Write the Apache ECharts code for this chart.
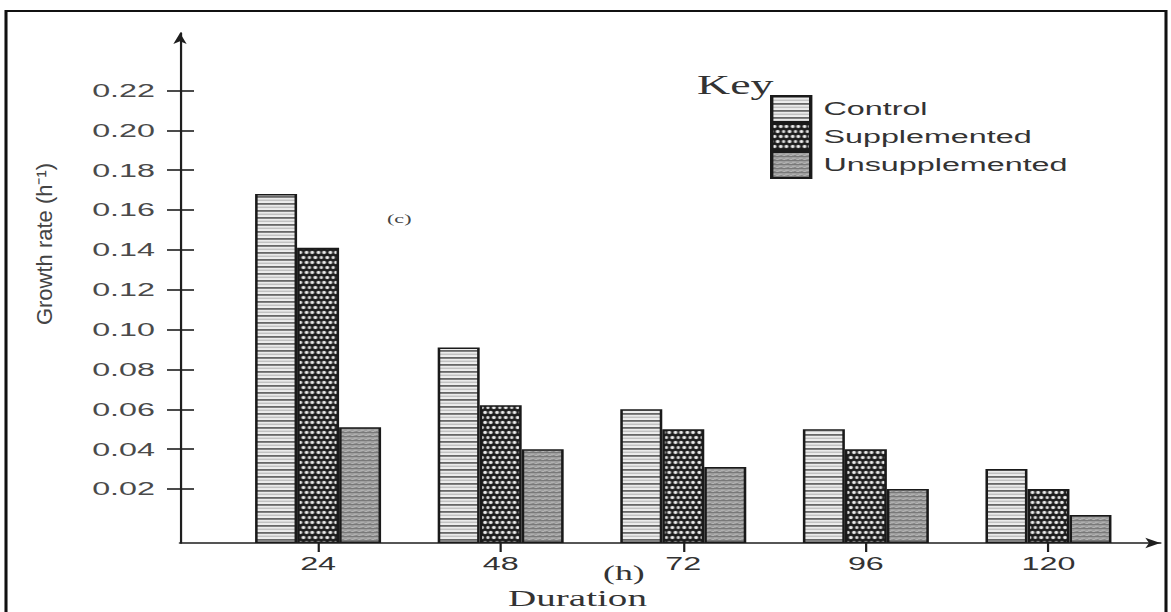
<!DOCTYPE html>
<html>
<head>
<meta charset="utf-8">
<script src="https://cdn.jsdelivr.net/npm/echarts@6/dist/echarts.min.js"></script>
<style>
  html, body { margin: 0; padding: 0; background: #ffffff; overflow: hidden; }
  /* the chart is laid out in a narrower box and widened, giving the broad lettering of the figure */
  #chart { width: 688.82px; height: 612px; transform: scaleX(1.7); transform-origin: 0 0; }
</style>
</head>
<body>
<div id="chart"></div>
<script>
// horizontal widening factor of the figure
const S = 1.7;

// duration (h)
const hours = [24, 48, 72, 96, 120];
// growth rate (h^-1)
const control = [0.168, 0.091, 0.060, 0.050, 0.030];
const supplemented = [0.141, 0.062, 0.050, 0.040, 0.020];
const unsupplemented = [0.051, 0.040, 0.031, 0.020, 0.007];
const seriesNames = ['Control', 'Supplemented', 'Unsupplemented'];
const yTicks = [0.02, 0.04, 0.06, 0.08, 0.10, 0.12, 0.14, 0.16, 0.18, 0.20, 0.22];

// hatch fills drawn on small tiles (tile units are chart units, K = oversampling)
const K = 10;
function tile(w, h, draw) {
  const c = document.createElement('canvas');
  c.width = w * K; c.height = h * K;
  const g = c.getContext('2d');
  g.scale(K, K);
  draw(g);
  return { image: c, repeat: 'repeat', imageWidth: c.width, imageHeight: c.height, scaleX: 1 / K, scaleY: 1 / K };
}
const stripeFill = tile(4, 7, g => {
  g.fillStyle = '#eeeeee'; g.fillRect(0, 0, 4, 7);
  g.fillStyle = '#666666'; g.fillRect(0, 0, 4, 1.8);
  g.fillStyle = '#b0b0b0'; g.fillRect(0, 3.6, 4, 1.1);
});
const dotFill = tile(7, 10, g => {
  g.fillStyle = '#1a1a1a'; g.fillRect(0, 0, 7, 10);
  g.fillStyle = '#f2f2f2';
  const dots = [[1.75, 2.5], [5.25, 2.5], [0, 7.5], [3.5, 7.5], [7, 7.5]];
  dots.forEach(([x, y]) => { g.beginPath(); g.ellipse(x, y, 1.05, 1.65, 0, 0, Math.PI * 2); g.fill(); });
});
const grainFill = tile(4, 4, g => {
  g.fillStyle = '#9b9b9b'; g.fillRect(0, 0, 4, 4);
  g.fillStyle = '#777777'; g.fillRect(0, 0, 4, 0.9);
  g.fillStyle = '#c4c4c4'; g.fillRect(0, 1.8, 2.2, 0.8);
  g.fillStyle = '#c4c4c4'; g.fillRect(2.6, 2.9, 1.4, 0.7);
  g.fillStyle = '#808080'; g.fillRect(1.2, 3.2, 1.0, 0.8);
});
const fills = [stripeFill, dotFill, grainFill];
const values = [control, supplemented, unsupplemented];

const yMin = -0.0071, yMax = 0.2488;
const xMin = 5.85, xMax = 134.7;
const axisColor = '#1e1e1e';
const sans = '"Liberation Sans", Arial, sans-serif';
const serif = '"Liberation Serif", "Times New Roman", serif';

const chart = echarts.init(document.getElementById('chart'), null, { renderer: 'svg' });

chart.setOption({
  backgroundColor: '#ffffff',
  animation: false,
  grid: { left: 180 / S, right: 11 / S, top: 33, bottom: 69 },
  legend: {
    data: seriesNames,
    orient: 'vertical',
    left: 770 / S,
    top: 95,
    padding: 0,
    itemWidth: 39 / S,
    itemHeight: 26,
    itemGap: 0,
    icon: 'rect',
    selectedMode: false,
    textStyle: { fontFamily: sans, fontSize: 19, color: '#333333', padding: [0, 0, 0, 2.5] }
  },
  xAxis: {
    type: 'value',
    min: xMin,
    max: xMax,
    axisLine: {
      show: true,
      onZero: false,
      symbol: ['none', 'arrow'],
      symbolSize: [8, 15 / S],
      lineStyle: { color: axisColor, width: 1.6 }
    },
    axisTick: { show: true, customValues: hours, length: 9, lineStyle: { color: axisColor, width: 1.3 } },
    axisLabel: { customValues: hours, margin: 11, fontFamily: sans, fontSize: 19, color: '#333333' },
    splitLine: { show: false }
  },
  yAxis: [
    {
      type: 'value',
      min: yMin,
      max: yMax,
      startValue: yMin,
      axisLine: {
        show: true,
        symbol: ['none', 'arrow'],
        symbolSize: [10 / S, 11],
        lineStyle: { color: axisColor, width: 1.3 }
      },
      axisTick: { show: true, customValues: yTicks, length: 13 / S, lineStyle: { color: axisColor, width: 1.6 } },
      axisLabel: {
        customValues: yTicks,
        margin: 25 / S,
        fontFamily: sans,
        fontSize: 19,
        color: '#4a4a4a',
        formatter: v => v.toFixed(2)
      },
      splitLine: { show: false }
    },
    {
      type: 'value',
      min: yMin,
      max: yMax,
      position: 'left',
      axisLine: { show: false },
      axisTick: { show: true, inside: true, customValues: yTicks, length: 14 / S, lineStyle: { color: axisColor, width: 1.6 } },
      axisLabel: { show: false },
      splitLine: { show: false }
    }
  ],
  series: seriesNames.map((name, s) => ({
    name,
    type: 'bar',
    barWidth: 42 / S,
    barGap: '0%',
    data: hours.map((h, i) => [h, values[s][i]]),
    itemStyle: { color: fills[s], borderColor: '#1a1a1a', borderWidth: 1.5 },
    emphasis: { disabled: true }
  })),
  graphic: [
    {
      type: 'rect',
      shape: { x: 6 / S, y: 11, width: 1160 / S, height: 640 },
      style: { fill: 'none', stroke: '#111111', lineWidth: 1.8 },
      silent: true
    },
    {
      type: 'text', x: 697 / S, y: 85,
      style: { text: 'Key', font: '27px ' + serif, fill: '#333333', textVerticalAlign: 'middle' }
    },
    {
      type: 'text', x: 387 / S, y: 219,
      style: { text: '(c)', font: '13px ' + serif, fill: '#444444', textVerticalAlign: 'middle' }
    },
    {
      type: 'text', x: 603 / S, y: 573,
      style: { text: '(h)', font: '21px ' + serif, fill: '#333333', textVerticalAlign: 'middle' }
    },
    {
      type: 'text', x: 508 / S, y: 598,
      style: { text: 'Duration', font: '23px ' + serif, fill: '#333333', textVerticalAlign: 'middle' }
    },
    {
      type: 'text', x: 45 / S, y: 244, rotation: Math.PI / 2, scaleY: 1 / S,
      style: { text: 'Growth rate (h⁻¹)', font: '22px ' + sans, fill: '#444444', textAlign: 'center', textVerticalAlign: 'middle' }
    }
  ]
});
</script>
</body>
</html>
